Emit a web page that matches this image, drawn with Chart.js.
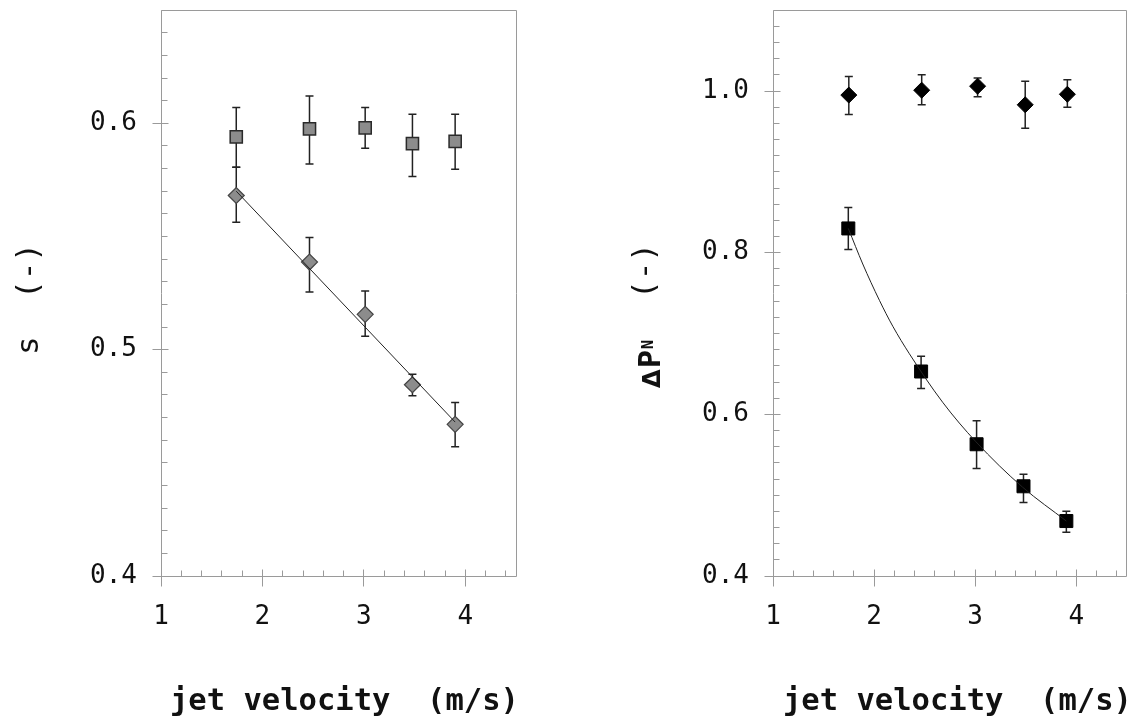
<!DOCTYPE html>
<html>
<head>
<meta charset="utf-8">
<script src="https://cdn.jsdelivr.net/npm/chart.js@4.4.0/dist/chart.umd.min.js"></script>
<style>
  html, body { margin: 0; padding: 0; background: #fff; }
  #wrap { position: relative; width: 1137px; height: 720px; overflow: hidden; }
  .panel { position: absolute; top: 0; height: 720px; }
  #left { left: 0; width: 560px; }
  #right { left: 570px; width: 567px; }
</style>
</head>
<body>
<div id="wrap">
  <div class="panel" id="left"><canvas id="cL" width="560" height="720"></canvas></div>
  <div class="panel" id="right"><canvas id="cR" width="567" height="720"></canvas></div>
</div>
<script>
// ---- left panel: s (-) against jet velocity ----
const velSquareL  = [1.742, 2.464, 3.013, 3.479, 3.900];
const sSquare     = [0.594, 0.5975, 0.598, 0.591, 0.592];
const sSquareHi   = [0.607, 0.612, 0.607, 0.604, 0.604];
const sSquareLo   = [0.5806, 0.582, 0.589, 0.5765, 0.5797];

const velDiamondL = [1.742, 2.464, 3.013, 3.479, 3.900];
const sDiamond    = [0.5681, 0.5387, 0.5156, 0.4845, 0.4670];
const sDiamondHi  = [0.5806, 0.5495, 0.5259, 0.4891, 0.4767];
const sDiamondLo  = [0.5563, 0.5255, 0.5059, 0.4796, 0.4571];

const sFitVel = [1.742, 3.900];
const sFit    = [0.570, 0.468];

// ---- right panel: ΔP_N (-) against jet velocity ----
const velDiamondR = [1.750, 2.471, 3.024, 3.495, 3.912];
const pDiamond    = [0.995, 1.001, 1.006, 0.983, 0.996];
const pDiamondHi  = [1.018, 1.020, 1.016, 1.012, 1.014];
const pDiamondLo  = [0.971, 0.983, 0.993, 0.954, 0.980];

const velSquareR  = [1.745, 2.465, 3.014, 3.478, 3.902];
const pSquare     = [0.830, 0.653, 0.563, 0.511, 0.468];
const pSquareHi   = [0.856, 0.672, 0.592, 0.526, 0.480];
const pSquareLo   = [0.804, 0.632, 0.533, 0.491, 0.454];

const pFitVel = [1.745, 1.888, 2.053, 2.185, 2.349, 2.678, 3.008, 3.468, 3.902];
const pFit    = [0.830, 0.786, 0.741, 0.709, 0.675, 0.615, 0.566, 0.510, 0.468];

// ---- axes ----
const xRange = [1, 4.5], xMajor = [1, 2, 3, 4], xMinorStep = 0.2;
const sRange = [0.4, 0.65], sMajor = [0.4, 0.5, 0.6], sMinorStep = 0.01;
const pRange = [0.4, 1.1], pMajor = [0.4, 0.6, 0.8, 1.0], pMinorStep = 0.02;
const xTitle = 'jet velocity  (m/s)';

const MONO = '"DejaVu Sans Mono", monospace';
const INK = '#111';
const AXIS = '#9a9a9a';

function tickValues(range, step) {
  const out = [];
  const n = Math.floor((range[1] - range[0]) / step + 1e-6);
  for (let i = 0; i <= n; i++) out.push(+(range[0] + i * step).toFixed(6));
  return out;
}
const isMajor = (v, majors) => majors.some(m => Math.abs(m - v) < 1e-7);
const pts = (xs, ys) => xs.map((x, i) => ({ x, y: ys[i] }));

// frame, inward minor ticks, crossing major ticks, error bars and titles
function makeDecor(cfg) {
  return {
    id: 'decor',
    beforeDatasetsDraw(chart) {
      const { ctx, chartArea: a, scales: { x, y } } = chart;
      const L = Math.floor(a.left) + 0.5, R = Math.floor(a.right) + 0.5;
      const T = Math.floor(a.top) + 0.5, B = Math.floor(a.bottom) + 0.5;
      ctx.save();
      ctx.strokeStyle = AXIS;
      ctx.lineWidth = 1;
      ctx.beginPath();
      ctx.rect(L, T, R - L, B - T);
      y.ticks.forEach(t => {
        const py = Math.floor(y.getPixelForValue(t.value)) + 0.5;
        const maj = isMajor(t.value, cfg.yMajor);
        ctx.moveTo(maj ? L - 9 : L, py);
        ctx.lineTo(L + (maj ? 7 : 6), py);
      });
      x.ticks.forEach(t => {
        const px = Math.floor(x.getPixelForValue(t.value)) + 0.5;
        const maj = isMajor(t.value, xMajor);
        ctx.moveTo(px, maj ? B + 10 : B);
        ctx.lineTo(px, B - (maj ? 7 : 6));
      });
      ctx.stroke();

      // error bars
      ctx.strokeStyle = '#222';
      ctx.lineWidth = 1.5;
      chart.data.datasets.forEach(ds => {
        if (!ds.errHi) return;
        ds.data.forEach((p, j) => {
          const px = x.getPixelForValue(p.x);
          const hi = y.getPixelForValue(ds.errHi[j]);
          const lo = y.getPixelForValue(ds.errLo[j]);
          ctx.beginPath();
          ctx.moveTo(px, hi); ctx.lineTo(px, lo);
          ctx.moveTo(px - 4, hi); ctx.lineTo(px + 4, hi);
          ctx.moveTo(px - 4, lo); ctx.lineTo(px + 4, lo);
          ctx.stroke();
        });
      });
      ctx.restore();
    },
    afterDraw(chart) {
      const { ctx } = chart;
      ctx.save();
      ctx.fillStyle = INK;
      ctx.textAlign = 'left';
      ctx.textBaseline = 'alphabetic';
      ctx.font = 'bold 30.5px ' + MONO;
      ctx.fillText(xTitle, cfg.xTitleAt[0], cfg.xTitleAt[1]);
      cfg.yTitle.forEach(piece => {
        ctx.save();
        ctx.font = piece.font;
        ctx.translate(piece.at[0], piece.at[1]);
        ctx.rotate(-Math.PI / 2);
        ctx.fillText(piece.text, 0, 0);
        ctx.restore();
      });
      ctx.restore();
    }
  };
}

function makeChart(canvas, cfg) {
  const xTicks = tickValues(xRange, xMinorStep);
  const yTicks = tickValues(cfg.yRange, cfg.yStep);
  return new Chart(canvas, {
    type: 'scatter',
    data: { datasets: cfg.datasets },
    options: {
      responsive: false,
      animation: false,
      events: [],
      layout: { padding: { left: 0, right: cfg.padRight, top: 10, bottom: 0 } },
      plugins: { legend: { display: false }, tooltip: { enabled: false } },
      scales: {
        x: {
          type: 'linear', min: xRange[0], max: xRange[1],
          afterBuildTicks: s => { s.ticks = xTicks.map(v => ({ value: v })); },
          afterFit: s => { s.height = 144; s.paddingLeft = 0; s.paddingRight = 0; },
          grid: { display: false, drawTicks: false },
          border: { display: false },
          ticks: {
            autoSkip: false, maxRotation: 0, padding: 26, color: INK,
            font: { family: MONO, size: 26 },
            callback: v => isMajor(v, xMajor) ? String(Math.round(v)) : ''
          }
        },
        y: {
          type: 'linear', min: cfg.yRange[0], max: cfg.yRange[1],
          afterBuildTicks: s => { s.ticks = yTicks.map(v => ({ value: v })); },
          afterFit: s => { s.width = cfg.axisWidth; s.paddingTop = 0; s.paddingBottom = 0; },
          grid: { display: false, drawTicks: false },
          border: { display: false },
          ticks: {
            autoSkip: false, padding: 24, color: INK,
            font: { family: MONO, size: 26 },
            callback: v => isMajor(v, cfg.yMajor) ? v.toFixed(1) : ''
          }
        }
      }
    },
    plugins: [makeDecor(cfg)]
  });
}

makeChart(document.getElementById('cL'), {
  yRange: sRange, yStep: sMinorStep, yMajor: sMajor,
  axisWidth: 161, padRight: 44,
  xTitleAt: [170, 710],
  yTitle: [
    { text: 's', font: '31px ' + MONO, at: [37.5, 355] },
    { text: '(-)', font: '31px ' + MONO, at: [38, 299] }
  ],
  datasets: [
    { label: 'fit', data: pts(sFitVel, sFit), showLine: true, pointRadius: 0,
      borderColor: '#222', borderWidth: 1, order: 0 },
    { label: 'squares', data: pts(velSquareL, sSquare), errHi: sSquareHi, errLo: sSquareLo,
      pointStyle: 'rect', pointRadius: 8.6, backgroundColor: '#8c8c8c',
      borderColor: '#2a2a2a', borderWidth: 1.5, order: 1 },
    { label: 'diamonds', data: pts(velDiamondL, sDiamond), errHi: sDiamondHi, errLo: sDiamondLo,
      pointStyle: 'rectRot', pointRadius: 8, backgroundColor: '#8c8c8c',
      borderColor: '#444', borderWidth: 1.2, order: 1 }
  ]
});

makeChart(document.getElementById('cR'), {
  yRange: pRange, yStep: pMinorStep, yMajor: pMajor,
  axisWidth: 203, padRight: 9,
  xTitleAt: [213, 710],
  yTitle: [
    { text: 'Δ', font: 'bold 24px "DejaVu Sans"', at: [90, 388] },
    { text: 'P', font: 'bold 30px ' + MONO, at: [90, 368] },
    { text: 'N', font: 'bold 15px ' + MONO, at: [83, 349] },
    { text: '(-)', font: '31px ' + MONO, at: [84, 299] }
  ],
  datasets: [
    { label: 'fit', data: pts(pFitVel, pFit), showLine: true, pointRadius: 0,
      borderColor: '#222', borderWidth: 1, tension: 0.4, cubicInterpolationMode: 'monotone', order: 0 },
    { label: 'diamonds', data: pts(velDiamondR, pDiamond), errHi: pDiamondHi, errLo: pDiamondLo,
      pointStyle: 'rectRot', pointRadius: 8, backgroundColor: '#000',
      borderColor: '#000', borderWidth: 1, order: 1 },
    { label: 'squares', data: pts(velSquareR, pSquare), errHi: pSquareHi, errLo: pSquareLo,
      pointStyle: 'rect', pointRadius: 9.2, backgroundColor: '#000',
      borderColor: '#000', borderWidth: 1, order: 1 }
  ]
});
</script>
</body>
</html>
